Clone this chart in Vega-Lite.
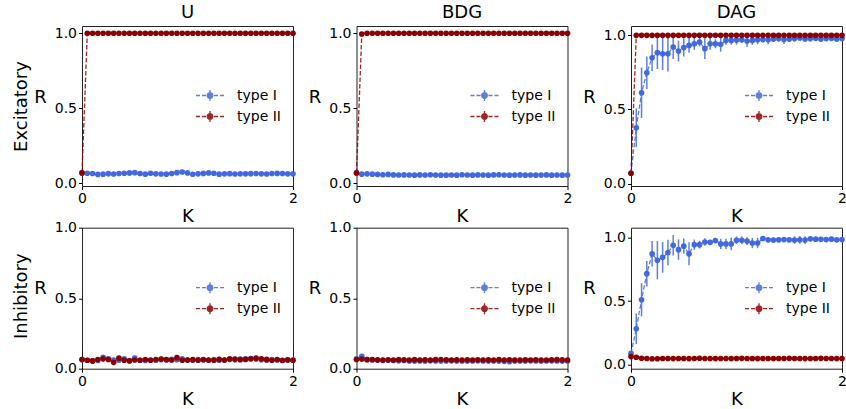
{
  "$schema": "https://vega.github.io/schema/vega-lite/v6.json",
  "background": "white",
  "padding": {"left": 11, "top": 3, "right": 0, "bottom": 0},
  "config": {
    "font": "DejaVu Sans",
    "view": {"stroke": "#222", "strokeWidth": 1},
    "axis": {"grid": false, "domain": false, "labelFlush": false, "labelOverlap": false, "labelFont": "DejaVu Sans", "titleFont": "DejaVu Sans", "labelFontSize": 14, "titleFontSize": 18, "titleFontWeight": "normal", "labelColor": "#000", "titleColor": "#000", "tickColor": "#000", "tickSize": 3.5, "labelPadding": 2},
    "axisX": {"titlePadding": 2},
    "title": {"font": "DejaVu Sans", "fontSize": 18, "fontWeight": "normal", "color": "#000", "offset": 4},
    "legend": {"labelFont": "DejaVu Sans", "labelFontSize": 14, "labelColor": "#000", "padding": 0, "rowPadding": 1, "labelOffset": 16}
  },
  "datasets": {
    "U_exc": [
      {"K":0,"type":"type I","R":0.07,"err":0.01},{"K":0.05,"type":"type I","R":0.068,"err":0.014},{"K":0.1,"type":"type I","R":0.066,"err":0.012},{"K":0.15,"type":"type I","R":0.06,"err":0.016},{"K":0.2,"type":"type I","R":0.062,"err":0.012},{"K":0.25,"type":"type I","R":0.065,"err":0.014},{"K":0.3,"type":"type I","R":0.063,"err":0.012},{"K":0.35,"type":"type I","R":0.066,"err":0.015},{"K":0.4,"type":"type I","R":0.068,"err":0.016},{"K":0.45,"type":"type I","R":0.07,"err":0.018},{"K":0.5,"type":"type I","R":0.072,"err":0.014},{"K":0.55,"type":"type I","R":0.066,"err":0.012},{"K":0.6,"type":"type I","R":0.062,"err":0.01},{"K":0.65,"type":"type I","R":0.068,"err":0.012},{"K":0.7,"type":"type I","R":0.064,"err":0.012},{"K":0.75,"type":"type I","R":0.063,"err":0.01},{"K":0.8,"type":"type I","R":0.062,"err":0.01},{"K":0.85,"type":"type I","R":0.066,"err":0.012},{"K":0.9,"type":"type I","R":0.072,"err":0.014},{"K":0.95,"type":"type I","R":0.076,"err":0.012},{"K":1,"type":"type I","R":0.07,"err":0.012},{"K":1.05,"type":"type I","R":0.061,"err":0.01},{"K":1.1,"type":"type I","R":0.064,"err":0.01},{"K":1.15,"type":"type I","R":0.067,"err":0.012},{"K":1.2,"type":"type I","R":0.07,"err":0.014},{"K":1.25,"type":"type I","R":0.068,"err":0.012},{"K":1.3,"type":"type I","R":0.062,"err":0.01},{"K":1.35,"type":"type I","R":0.064,"err":0.01},{"K":1.4,"type":"type I","R":0.065,"err":0.01},{"K":1.45,"type":"type I","R":0.063,"err":0.01},{"K":1.5,"type":"type I","R":0.064,"err":0.01},{"K":1.55,"type":"type I","R":0.064,"err":0.01},{"K":1.6,"type":"type I","R":0.065,"err":0.01},{"K":1.65,"type":"type I","R":0.066,"err":0.01},{"K":1.7,"type":"type I","R":0.064,"err":0.01},{"K":1.75,"type":"type I","R":0.063,"err":0.01},{"K":1.8,"type":"type I","R":0.066,"err":0.01},{"K":1.85,"type":"type I","R":0.067,"err":0.01},{"K":1.9,"type":"type I","R":0.066,"err":0.01},{"K":1.95,"type":"type I","R":0.064,"err":0.01},{"K":2,"type":"type I","R":0.064,"err":0.01},
      {"K":0,"type":"type II","R":0.07,"err":0.005},{"K":0.05,"type":"type II","R":1,"err":0},{"K":0.1,"type":"type II","R":1,"err":0},{"K":0.15,"type":"type II","R":1,"err":0},{"K":0.2,"type":"type II","R":1,"err":0},{"K":0.25,"type":"type II","R":1,"err":0},{"K":0.3,"type":"type II","R":1,"err":0},{"K":0.35,"type":"type II","R":1,"err":0},{"K":0.4,"type":"type II","R":1,"err":0},{"K":0.45,"type":"type II","R":1,"err":0},{"K":0.5,"type":"type II","R":1,"err":0},{"K":0.55,"type":"type II","R":1,"err":0},{"K":0.6,"type":"type II","R":1,"err":0},{"K":0.65,"type":"type II","R":1,"err":0},{"K":0.7,"type":"type II","R":1,"err":0},{"K":0.75,"type":"type II","R":1,"err":0},{"K":0.8,"type":"type II","R":1,"err":0},{"K":0.85,"type":"type II","R":1,"err":0},{"K":0.9,"type":"type II","R":1,"err":0},{"K":0.95,"type":"type II","R":1,"err":0},{"K":1,"type":"type II","R":1,"err":0},{"K":1.05,"type":"type II","R":1,"err":0},{"K":1.1,"type":"type II","R":1,"err":0},{"K":1.15,"type":"type II","R":1,"err":0},{"K":1.2,"type":"type II","R":1,"err":0},{"K":1.25,"type":"type II","R":1,"err":0},{"K":1.3,"type":"type II","R":1,"err":0},{"K":1.35,"type":"type II","R":1,"err":0},{"K":1.4,"type":"type II","R":1,"err":0},{"K":1.45,"type":"type II","R":1,"err":0},{"K":1.5,"type":"type II","R":1,"err":0},{"K":1.55,"type":"type II","R":1,"err":0},{"K":1.6,"type":"type II","R":1,"err":0},{"K":1.65,"type":"type II","R":1,"err":0},{"K":1.7,"type":"type II","R":1,"err":0},{"K":1.75,"type":"type II","R":1,"err":0},{"K":1.8,"type":"type II","R":1,"err":0},{"K":1.85,"type":"type II","R":1,"err":0},{"K":1.9,"type":"type II","R":1,"err":0},{"K":1.95,"type":"type II","R":1,"err":0},{"K":2,"type":"type II","R":1,"err":0}
    ],
    "BDG_exc": [
      {"K":0,"type":"type I","R":0.07,"err":0.012},{"K":0.05,"type":"type I","R":0.062,"err":0.015},{"K":0.1,"type":"type I","R":0.064,"err":0.014},{"K":0.15,"type":"type I","R":0.062,"err":0.012},{"K":0.2,"type":"type I","R":0.06,"err":0.012},{"K":0.25,"type":"type I","R":0.058,"err":0.012},{"K":0.3,"type":"type I","R":0.06,"err":0.014},{"K":0.35,"type":"type I","R":0.057,"err":0.01},{"K":0.4,"type":"type I","R":0.056,"err":0.01},{"K":0.45,"type":"type I","R":0.057,"err":0.01},{"K":0.5,"type":"type I","R":0.056,"err":0.01},{"K":0.55,"type":"type I","R":0.055,"err":0.01},{"K":0.6,"type":"type I","R":0.057,"err":0.01},{"K":0.65,"type":"type I","R":0.056,"err":0.01},{"K":0.7,"type":"type I","R":0.058,"err":0.01},{"K":0.75,"type":"type I","R":0.056,"err":0.01},{"K":0.8,"type":"type I","R":0.055,"err":0.01},{"K":0.85,"type":"type I","R":0.055,"err":0.01},{"K":0.9,"type":"type I","R":0.056,"err":0.01},{"K":0.95,"type":"type I","R":0.055,"err":0.01},{"K":1,"type":"type I","R":0.058,"err":0.01},{"K":1.05,"type":"type I","R":0.056,"err":0.01},{"K":1.1,"type":"type I","R":0.055,"err":0.01},{"K":1.15,"type":"type I","R":0.057,"err":0.01},{"K":1.2,"type":"type I","R":0.056,"err":0.01},{"K":1.25,"type":"type I","R":0.055,"err":0.01},{"K":1.3,"type":"type I","R":0.057,"err":0.01},{"K":1.35,"type":"type I","R":0.058,"err":0.01},{"K":1.4,"type":"type I","R":0.056,"err":0.01},{"K":1.45,"type":"type I","R":0.055,"err":0.01},{"K":1.5,"type":"type I","R":0.056,"err":0.01},{"K":1.55,"type":"type I","R":0.057,"err":0.01},{"K":1.6,"type":"type I","R":0.055,"err":0.01},{"K":1.65,"type":"type I","R":0.056,"err":0.01},{"K":1.7,"type":"type I","R":0.055,"err":0.01},{"K":1.75,"type":"type I","R":0.056,"err":0.01},{"K":1.8,"type":"type I","R":0.057,"err":0.01},{"K":1.85,"type":"type I","R":0.055,"err":0.01},{"K":1.9,"type":"type I","R":0.056,"err":0.01},{"K":1.95,"type":"type I","R":0.055,"err":0.01},{"K":2,"type":"type I","R":0.056,"err":0.01},
      {"K":0,"type":"type II","R":0.07,"err":0.005},{"K":0.05,"type":"type II","R":0.995,"err":0},{"K":0.1,"type":"type II","R":1,"err":0},{"K":0.15,"type":"type II","R":1,"err":0},{"K":0.2,"type":"type II","R":1,"err":0},{"K":0.25,"type":"type II","R":1,"err":0},{"K":0.3,"type":"type II","R":1,"err":0},{"K":0.35,"type":"type II","R":1,"err":0},{"K":0.4,"type":"type II","R":1,"err":0},{"K":0.45,"type":"type II","R":1,"err":0},{"K":0.5,"type":"type II","R":1,"err":0},{"K":0.55,"type":"type II","R":1,"err":0},{"K":0.6,"type":"type II","R":1,"err":0},{"K":0.65,"type":"type II","R":1,"err":0},{"K":0.7,"type":"type II","R":1,"err":0},{"K":0.75,"type":"type II","R":1,"err":0},{"K":0.8,"type":"type II","R":1,"err":0},{"K":0.85,"type":"type II","R":1,"err":0},{"K":0.9,"type":"type II","R":1,"err":0},{"K":0.95,"type":"type II","R":1,"err":0},{"K":1,"type":"type II","R":1,"err":0},{"K":1.05,"type":"type II","R":1,"err":0},{"K":1.1,"type":"type II","R":1,"err":0},{"K":1.15,"type":"type II","R":1,"err":0},{"K":1.2,"type":"type II","R":1,"err":0},{"K":1.25,"type":"type II","R":1,"err":0},{"K":1.3,"type":"type II","R":1,"err":0},{"K":1.35,"type":"type II","R":1,"err":0},{"K":1.4,"type":"type II","R":1,"err":0},{"K":1.45,"type":"type II","R":1,"err":0},{"K":1.5,"type":"type II","R":1,"err":0},{"K":1.55,"type":"type II","R":1,"err":0},{"K":1.6,"type":"type II","R":1,"err":0},{"K":1.65,"type":"type II","R":1,"err":0},{"K":1.7,"type":"type II","R":1,"err":0},{"K":1.75,"type":"type II","R":1,"err":0},{"K":1.8,"type":"type II","R":1,"err":0},{"K":1.85,"type":"type II","R":1,"err":0},{"K":1.9,"type":"type II","R":1,"err":0},{"K":1.95,"type":"type II","R":1,"err":0},{"K":2,"type":"type II","R":1,"err":0}
    ],
    "DAG_exc": [
      {"K":0,"type":"type I","R":0.07,"err":0.005},{"K":0.05,"type":"type I","R":0.377,"err":0.13},{"K":0.1,"type":"type I","R":0.613,"err":0.17},{"K":0.15,"type":"type I","R":0.748,"err":0.11},{"K":0.2,"type":"type I","R":0.849,"err":0.09},{"K":0.25,"type":"type I","R":0.883,"err":0.11},{"K":0.3,"type":"type I","R":0.876,"err":0.11},{"K":0.35,"type":"type I","R":0.876,"err":0.12},{"K":0.4,"type":"type I","R":0.921,"err":0.08},{"K":0.45,"type":"type I","R":0.894,"err":0.07},{"K":0.5,"type":"type I","R":0.918,"err":0.06},{"K":0.55,"type":"type I","R":0.932,"err":0.05},{"K":0.6,"type":"type I","R":0.943,"err":0.04},{"K":0.65,"type":"type I","R":0.955,"err":0.03},{"K":0.7,"type":"type I","R":0.91,"err":0.07},{"K":0.75,"type":"type I","R":0.943,"err":0.04},{"K":0.8,"type":"type I","R":0.943,"err":0.03},{"K":0.85,"type":"type I","R":0.94,"err":0.05},{"K":0.9,"type":"type I","R":0.966,"err":0.03},{"K":0.95,"type":"type I","R":0.966,"err":0.03},{"K":1,"type":"type I","R":0.968,"err":0.03},{"K":1.05,"type":"type I","R":0.97,"err":0.02},{"K":1.1,"type":"type I","R":0.962,"err":0.04},{"K":1.15,"type":"type I","R":0.966,"err":0.03},{"K":1.2,"type":"type I","R":0.97,"err":0.03},{"K":1.25,"type":"type I","R":0.972,"err":0.02},{"K":1.3,"type":"type I","R":0.97,"err":0.03},{"K":1.35,"type":"type I","R":0.975,"err":0.02},{"K":1.4,"type":"type I","R":0.978,"err":0.02},{"K":1.45,"type":"type I","R":0.972,"err":0.03},{"K":1.5,"type":"type I","R":0.975,"err":0.02},{"K":1.55,"type":"type I","R":0.978,"err":0.02},{"K":1.6,"type":"type I","R":0.982,"err":0.015},{"K":1.65,"type":"type I","R":0.976,"err":0.02},{"K":1.7,"type":"type I","R":0.978,"err":0.02},{"K":1.75,"type":"type I","R":0.98,"err":0.015},{"K":1.8,"type":"type I","R":0.975,"err":0.02},{"K":1.85,"type":"type I","R":0.978,"err":0.015},{"K":1.9,"type":"type I","R":0.98,"err":0.015},{"K":1.95,"type":"type I","R":0.976,"err":0.02},{"K":2,"type":"type I","R":0.978,"err":0.015},
      {"K":0,"type":"type II","R":0.07,"err":0.005},{"K":0.05,"type":"type II","R":1,"err":0},{"K":0.1,"type":"type II","R":1,"err":0},{"K":0.15,"type":"type II","R":1,"err":0},{"K":0.2,"type":"type II","R":1,"err":0},{"K":0.25,"type":"type II","R":1,"err":0},{"K":0.3,"type":"type II","R":1,"err":0},{"K":0.35,"type":"type II","R":1,"err":0},{"K":0.4,"type":"type II","R":1,"err":0},{"K":0.45,"type":"type II","R":1,"err":0},{"K":0.5,"type":"type II","R":1,"err":0},{"K":0.55,"type":"type II","R":1,"err":0},{"K":0.6,"type":"type II","R":1,"err":0},{"K":0.65,"type":"type II","R":1,"err":0},{"K":0.7,"type":"type II","R":1,"err":0},{"K":0.75,"type":"type II","R":1,"err":0},{"K":0.8,"type":"type II","R":1,"err":0},{"K":0.85,"type":"type II","R":1,"err":0},{"K":0.9,"type":"type II","R":1,"err":0},{"K":0.95,"type":"type II","R":1,"err":0},{"K":1,"type":"type II","R":1,"err":0},{"K":1.05,"type":"type II","R":1,"err":0},{"K":1.1,"type":"type II","R":1,"err":0},{"K":1.15,"type":"type II","R":1,"err":0},{"K":1.2,"type":"type II","R":1,"err":0},{"K":1.25,"type":"type II","R":1,"err":0},{"K":1.3,"type":"type II","R":1,"err":0},{"K":1.35,"type":"type II","R":1,"err":0},{"K":1.4,"type":"type II","R":1,"err":0},{"K":1.45,"type":"type II","R":1,"err":0},{"K":1.5,"type":"type II","R":1,"err":0},{"K":1.55,"type":"type II","R":1,"err":0},{"K":1.6,"type":"type II","R":1,"err":0},{"K":1.65,"type":"type II","R":1,"err":0},{"K":1.7,"type":"type II","R":1,"err":0},{"K":1.75,"type":"type II","R":1,"err":0},{"K":1.8,"type":"type II","R":1,"err":0},{"K":1.85,"type":"type II","R":1,"err":0},{"K":1.9,"type":"type II","R":1,"err":0},{"K":1.95,"type":"type II","R":1,"err":0},{"K":2,"type":"type II","R":1,"err":0}
    ],
    "U_inh": [
      {"K":0,"type":"type I","R":0.065,"err":0.015},{"K":0.05,"type":"type I","R":0.06,"err":0.016},{"K":0.1,"type":"type I","R":0.055,"err":0.018},{"K":0.15,"type":"type I","R":0.058,"err":0.016},{"K":0.2,"type":"type I","R":0.08,"err":0.016},{"K":0.25,"type":"type I","R":0.07,"err":0.018},{"K":0.3,"type":"type I","R":0.062,"err":0.016},{"K":0.35,"type":"type I","R":0.06,"err":0.015},{"K":0.4,"type":"type I","R":0.07,"err":0.016},{"K":0.45,"type":"type I","R":0.058,"err":0.015},{"K":0.5,"type":"type I","R":0.075,"err":0.016},{"K":0.55,"type":"type I","R":0.06,"err":0.015},{"K":0.6,"type":"type I","R":0.058,"err":0.015},{"K":0.65,"type":"type I","R":0.062,"err":0.015},{"K":0.7,"type":"type I","R":0.06,"err":0.015},{"K":0.75,"type":"type I","R":0.064,"err":0.015},{"K":0.8,"type":"type I","R":0.063,"err":0.015},{"K":0.85,"type":"type I","R":0.066,"err":0.015},{"K":0.9,"type":"type I","R":0.064,"err":0.015},{"K":0.95,"type":"type I","R":0.07,"err":0.015},{"K":1,"type":"type I","R":0.062,"err":0.015},{"K":1.05,"type":"type I","R":0.06,"err":0.015},{"K":1.1,"type":"type I","R":0.065,"err":0.015},{"K":1.15,"type":"type I","R":0.062,"err":0.015},{"K":1.2,"type":"type I","R":0.06,"err":0.015},{"K":1.25,"type":"type I","R":0.064,"err":0.015},{"K":1.3,"type":"type I","R":0.06,"err":0.015},{"K":1.35,"type":"type I","R":0.062,"err":0.015},{"K":1.4,"type":"type I","R":0.065,"err":0.015},{"K":1.45,"type":"type I","R":0.063,"err":0.015},{"K":1.5,"type":"type I","R":0.068,"err":0.015},{"K":1.55,"type":"type I","R":0.07,"err":0.015},{"K":1.6,"type":"type I","R":0.072,"err":0.015},{"K":1.65,"type":"type I","R":0.068,"err":0.015},{"K":1.7,"type":"type I","R":0.064,"err":0.015},{"K":1.75,"type":"type I","R":0.06,"err":0.015},{"K":1.8,"type":"type I","R":0.065,"err":0.015},{"K":1.85,"type":"type I","R":0.062,"err":0.015},{"K":1.9,"type":"type I","R":0.06,"err":0.015},{"K":1.95,"type":"type I","R":0.064,"err":0.015},{"K":2,"type":"type I","R":0.062,"err":0.015},
      {"K":0,"type":"type II","R":0.065,"err":0.015},{"K":0.05,"type":"type II","R":0.06,"err":0.016},{"K":0.1,"type":"type II","R":0.055,"err":0.02},{"K":0.15,"type":"type II","R":0.065,"err":0.018},{"K":0.2,"type":"type II","R":0.07,"err":0.02},{"K":0.25,"type":"type II","R":0.065,"err":0.018},{"K":0.3,"type":"type II","R":0.045,"err":0.02},{"K":0.35,"type":"type II","R":0.075,"err":0.016},{"K":0.4,"type":"type II","R":0.06,"err":0.018},{"K":0.45,"type":"type II","R":0.055,"err":0.016},{"K":0.5,"type":"type II","R":0.062,"err":0.016},{"K":0.55,"type":"type II","R":0.06,"err":0.016},{"K":0.6,"type":"type II","R":0.065,"err":0.016},{"K":0.65,"type":"type II","R":0.06,"err":0.016},{"K":0.7,"type":"type II","R":0.065,"err":0.018},{"K":0.75,"type":"type II","R":0.068,"err":0.016},{"K":0.8,"type":"type II","R":0.064,"err":0.016},{"K":0.85,"type":"type II","R":0.062,"err":0.018},{"K":0.9,"type":"type II","R":0.078,"err":0.016},{"K":0.95,"type":"type II","R":0.06,"err":0.018},{"K":1,"type":"type II","R":0.062,"err":0.016},{"K":1.05,"type":"type II","R":0.064,"err":0.016},{"K":1.1,"type":"type II","R":0.06,"err":0.016},{"K":1.15,"type":"type II","R":0.065,"err":0.016},{"K":1.2,"type":"type II","R":0.062,"err":0.016},{"K":1.25,"type":"type II","R":0.06,"err":0.016},{"K":1.3,"type":"type II","R":0.066,"err":0.018},{"K":1.35,"type":"type II","R":0.062,"err":0.016},{"K":1.4,"type":"type II","R":0.07,"err":0.016},{"K":1.45,"type":"type II","R":0.068,"err":0.016},{"K":1.5,"type":"type II","R":0.064,"err":0.016},{"K":1.55,"type":"type II","R":0.066,"err":0.016},{"K":1.6,"type":"type II","R":0.07,"err":0.016},{"K":1.65,"type":"type II","R":0.075,"err":0.016},{"K":1.7,"type":"type II","R":0.07,"err":0.016},{"K":1.75,"type":"type II","R":0.066,"err":0.016},{"K":1.8,"type":"type II","R":0.06,"err":0.016},{"K":1.85,"type":"type II","R":0.065,"err":0.016},{"K":1.9,"type":"type II","R":0.058,"err":0.016},{"K":1.95,"type":"type II","R":0.062,"err":0.016},{"K":2,"type":"type II","R":0.06,"err":0.016}
    ],
    "BDG_inh": [
      {"K":0,"type":"type I","R":0.07,"err":0.012},{"K":0.05,"type":"type I","R":0.088,"err":0.015},{"K":0.1,"type":"type I","R":0.065,"err":0.014},{"K":0.15,"type":"type I","R":0.062,"err":0.012},{"K":0.2,"type":"type I","R":0.06,"err":0.012},{"K":0.25,"type":"type I","R":0.058,"err":0.012},{"K":0.3,"type":"type I","R":0.06,"err":0.012},{"K":0.35,"type":"type I","R":0.058,"err":0.012},{"K":0.4,"type":"type I","R":0.056,"err":0.012},{"K":0.45,"type":"type I","R":0.058,"err":0.012},{"K":0.5,"type":"type I","R":0.055,"err":0.012},{"K":0.55,"type":"type I","R":0.054,"err":0.012},{"K":0.6,"type":"type I","R":0.055,"err":0.012},{"K":0.65,"type":"type I","R":0.054,"err":0.012},{"K":0.7,"type":"type I","R":0.056,"err":0.012},{"K":0.75,"type":"type I","R":0.055,"err":0.012},{"K":0.8,"type":"type I","R":0.054,"err":0.012},{"K":0.85,"type":"type I","R":0.055,"err":0.012},{"K":0.9,"type":"type I","R":0.056,"err":0.012},{"K":0.95,"type":"type I","R":0.054,"err":0.012},{"K":1,"type":"type I","R":0.055,"err":0.012},{"K":1.05,"type":"type I","R":0.054,"err":0.012},{"K":1.1,"type":"type I","R":0.055,"err":0.012},{"K":1.15,"type":"type I","R":0.056,"err":0.012},{"K":1.2,"type":"type I","R":0.055,"err":0.012},{"K":1.25,"type":"type I","R":0.054,"err":0.012},{"K":1.3,"type":"type I","R":0.055,"err":0.012},{"K":1.35,"type":"type I","R":0.054,"err":0.012},{"K":1.4,"type":"type I","R":0.052,"err":0.012},{"K":1.45,"type":"type I","R":0.05,"err":0.012},{"K":1.5,"type":"type I","R":0.054,"err":0.012},{"K":1.55,"type":"type I","R":0.055,"err":0.012},{"K":1.6,"type":"type I","R":0.054,"err":0.012},{"K":1.65,"type":"type I","R":0.056,"err":0.012},{"K":1.7,"type":"type I","R":0.055,"err":0.012},{"K":1.75,"type":"type I","R":0.054,"err":0.012},{"K":1.8,"type":"type I","R":0.055,"err":0.012},{"K":1.85,"type":"type I","R":0.056,"err":0.012},{"K":1.9,"type":"type I","R":0.055,"err":0.012},{"K":1.95,"type":"type I","R":0.054,"err":0.012},{"K":2,"type":"type I","R":0.055,"err":0.012},
      {"K":0,"type":"type II","R":0.065,"err":0.015},{"K":0.05,"type":"type II","R":0.068,"err":0.015},{"K":0.1,"type":"type II","R":0.064,"err":0.015},{"K":0.15,"type":"type II","R":0.065,"err":0.015},{"K":0.2,"type":"type II","R":0.063,"err":0.015},{"K":0.25,"type":"type II","R":0.062,"err":0.015},{"K":0.3,"type":"type II","R":0.063,"err":0.015},{"K":0.35,"type":"type II","R":0.062,"err":0.015},{"K":0.4,"type":"type II","R":0.064,"err":0.015},{"K":0.45,"type":"type II","R":0.063,"err":0.015},{"K":0.5,"type":"type II","R":0.062,"err":0.015},{"K":0.55,"type":"type II","R":0.064,"err":0.015},{"K":0.6,"type":"type II","R":0.062,"err":0.015},{"K":0.65,"type":"type II","R":0.063,"err":0.015},{"K":0.7,"type":"type II","R":0.062,"err":0.015},{"K":0.75,"type":"type II","R":0.064,"err":0.015},{"K":0.8,"type":"type II","R":0.065,"err":0.015},{"K":0.85,"type":"type II","R":0.063,"err":0.015},{"K":0.9,"type":"type II","R":0.062,"err":0.015},{"K":0.95,"type":"type II","R":0.063,"err":0.015},{"K":1,"type":"type II","R":0.062,"err":0.015},{"K":1.05,"type":"type II","R":0.063,"err":0.015},{"K":1.1,"type":"type II","R":0.062,"err":0.015},{"K":1.15,"type":"type II","R":0.063,"err":0.015},{"K":1.2,"type":"type II","R":0.062,"err":0.015},{"K":1.25,"type":"type II","R":0.063,"err":0.015},{"K":1.3,"type":"type II","R":0.062,"err":0.015},{"K":1.35,"type":"type II","R":0.064,"err":0.015},{"K":1.4,"type":"type II","R":0.062,"err":0.015},{"K":1.45,"type":"type II","R":0.063,"err":0.015},{"K":1.5,"type":"type II","R":0.062,"err":0.015},{"K":1.55,"type":"type II","R":0.062,"err":0.015},{"K":1.6,"type":"type II","R":0.063,"err":0.015},{"K":1.65,"type":"type II","R":0.062,"err":0.015},{"K":1.7,"type":"type II","R":0.063,"err":0.015},{"K":1.75,"type":"type II","R":0.062,"err":0.015},{"K":1.8,"type":"type II","R":0.062,"err":0.015},{"K":1.85,"type":"type II","R":0.063,"err":0.015},{"K":1.9,"type":"type II","R":0.064,"err":0.015},{"K":1.95,"type":"type II","R":0.063,"err":0.015},{"K":2,"type":"type II","R":0.062,"err":0.015}
    ],
    "DAG_inh": [
      {"K":0,"type":"type I","R":0.09,"err":0.01},{"K":0.05,"type":"type I","R":0.283,"err":0.12},{"K":0.1,"type":"type I","R":0.51,"err":0.13},{"K":0.15,"type":"type I","R":0.715,"err":0.1},{"K":0.2,"type":"type I","R":0.87,"err":0.1},{"K":0.25,"type":"type I","R":0.82,"err":0.15},{"K":0.3,"type":"type I","R":0.843,"err":0.12},{"K":0.35,"type":"type I","R":0.88,"err":0.1},{"K":0.4,"type":"type I","R":0.937,"err":0.08},{"K":0.45,"type":"type I","R":0.903,"err":0.08},{"K":0.5,"type":"type I","R":0.93,"err":0.06},{"K":0.55,"type":"type I","R":0.87,"err":0.09},{"K":0.6,"type":"type I","R":0.942,"err":0.04},{"K":0.65,"type":"type I","R":0.942,"err":0.03},{"K":0.7,"type":"type I","R":0.963,"err":0.03},{"K":0.75,"type":"type I","R":0.96,"err":0.02},{"K":0.8,"type":"type I","R":0.974,"err":0.02},{"K":0.85,"type":"type I","R":0.948,"err":0.04},{"K":0.9,"type":"type I","R":0.948,"err":0.04},{"K":0.95,"type":"type I","R":0.948,"err":0.05},{"K":1,"type":"type I","R":0.976,"err":0.03},{"K":1.05,"type":"type I","R":0.976,"err":0.03},{"K":1.1,"type":"type I","R":0.97,"err":0.03},{"K":1.15,"type":"type I","R":0.955,"err":0.04},{"K":1.2,"type":"type I","R":0.955,"err":0.04},{"K":1.25,"type":"type I","R":0.99,"err":0.02},{"K":1.3,"type":"type I","R":0.98,"err":0.02},{"K":1.35,"type":"type I","R":0.978,"err":0.02},{"K":1.4,"type":"type I","R":0.98,"err":0.02},{"K":1.45,"type":"type I","R":0.982,"err":0.02},{"K":1.5,"type":"type I","R":0.98,"err":0.02},{"K":1.55,"type":"type I","R":0.978,"err":0.03},{"K":1.6,"type":"type I","R":0.98,"err":0.03},{"K":1.65,"type":"type I","R":0.978,"err":0.03},{"K":1.7,"type":"type I","R":0.988,"err":0.015},{"K":1.75,"type":"type I","R":0.985,"err":0.015},{"K":1.8,"type":"type I","R":0.984,"err":0.015},{"K":1.85,"type":"type I","R":0.982,"err":0.015},{"K":1.9,"type":"type I","R":0.985,"err":0.015},{"K":1.95,"type":"type I","R":0.98,"err":0.015},{"K":2,"type":"type I","R":0.982,"err":0.015},
      {"K":0,"type":"type II","R":0.065,"err":0.01},{"K":0.05,"type":"type II","R":0.06,"err":0.01},{"K":0.1,"type":"type II","R":0.052,"err":0.01},{"K":0.15,"type":"type II","R":0.05,"err":0.01},{"K":0.2,"type":"type II","R":0.048,"err":0.01},{"K":0.25,"type":"type II","R":0.048,"err":0.01},{"K":0.3,"type":"type II","R":0.05,"err":0.01},{"K":0.35,"type":"type II","R":0.05,"err":0.01},{"K":0.4,"type":"type II","R":0.049,"err":0.01},{"K":0.45,"type":"type II","R":0.05,"err":0.01},{"K":0.5,"type":"type II","R":0.05,"err":0.01},{"K":0.55,"type":"type II","R":0.049,"err":0.01},{"K":0.6,"type":"type II","R":0.05,"err":0.01},{"K":0.65,"type":"type II","R":0.052,"err":0.01},{"K":0.7,"type":"type II","R":0.05,"err":0.01},{"K":0.75,"type":"type II","R":0.05,"err":0.01},{"K":0.8,"type":"type II","R":0.049,"err":0.01},{"K":0.85,"type":"type II","R":0.05,"err":0.01},{"K":0.9,"type":"type II","R":0.05,"err":0.01},{"K":0.95,"type":"type II","R":0.049,"err":0.01},{"K":1,"type":"type II","R":0.05,"err":0.01},{"K":1.05,"type":"type II","R":0.051,"err":0.01},{"K":1.1,"type":"type II","R":0.05,"err":0.01},{"K":1.15,"type":"type II","R":0.05,"err":0.01},{"K":1.2,"type":"type II","R":0.049,"err":0.01},{"K":1.25,"type":"type II","R":0.05,"err":0.01},{"K":1.3,"type":"type II","R":0.05,"err":0.01},{"K":1.35,"type":"type II","R":0.049,"err":0.01},{"K":1.4,"type":"type II","R":0.05,"err":0.01},{"K":1.45,"type":"type II","R":0.05,"err":0.01},{"K":1.5,"type":"type II","R":0.051,"err":0.01},{"K":1.55,"type":"type II","R":0.05,"err":0.01},{"K":1.6,"type":"type II","R":0.05,"err":0.01},{"K":1.65,"type":"type II","R":0.049,"err":0.01},{"K":1.7,"type":"type II","R":0.05,"err":0.01},{"K":1.75,"type":"type II","R":0.05,"err":0.01},{"K":1.8,"type":"type II","R":0.051,"err":0.01},{"K":1.85,"type":"type II","R":0.05,"err":0.01},{"K":1.9,"type":"type II","R":0.05,"err":0.01},{"K":1.95,"type":"type II","R":0.049,"err":0.01},{"K":2,"type":"type II","R":0.05,"err":0.01}
    ]
  },
  "columns": 3,
  "spacing": {"row": 41.7, "column": 63.5},
  "bounds": "flush",
  "resolve": {"legend": {"color": "independent"}},
  "concat": [
    {
      "width": 211, "height": 160, "title": "U", "data": {"name": "U_exc"},
      "encoding": {
        "x": {"field": "K", "type": "quantitative", "scale": {"domain": [0, 2], "nice": false, "zero": false}, "axis": {"title": "K", "values": [0, 1, 2], "format": "d"}},
        "color": {"field": "type", "type": "nominal", "scale": {"domain": ["type I", "type II"], "range": ["#4169E1", "#8B0000"]},
          "legend": {"orient": "none", "legendX": 117, "legendY": 58.5, "title": null, "symbolType": "M-1.4,0L-1,0M-0.8,0L-0.4,0M-0.2,0L0.2,0M0.4,0L0.8,0M1,0L1.4,0M0,-0.55L0,0.55M-0.28,0A0.28,0.28 0 1,0 0.28,0A0.28,0.28 0 1,0 -0.28,0Z", "symbolSize": 400, "symbolStrokeWidth": 1.3,
            "encode": {"symbols": {"update": {"fill": {"scale": "color", "field": "value"}, "stroke": {"scale": "color", "field": "value"}, "strokeDash": {"value": [1, 0]}, "opacity": {"value": 1}}}}}}
      },
      "layer": [
        {"mark": {"type": "errorbar", "ticks": false, "thickness": 1.5, "rule": {"opacity": 0.85}},
         "encoding": {"y": {"field": "R", "type": "quantitative", "scale": {"domain": [-0.017, 1.0485], "nice": false, "zero": false}, "axis": null}, "yError": {"field": "err"}}},
        {"mark": {"type": "line", "strokeDash": [4.5, 2], "strokeWidth": 1.3, "opacity": 0.85},
         "encoding": {"y": {"field": "R", "type": "quantitative", "scale": {"domain": [-0.017, 1.0485], "nice": false, "zero": false},
           "axis": {"orient": "left", "title": "Excitatory", "labels": false, "ticks": false, "domain": false, "titleAngle": 270, "titleX": -61, "titleY": 80, "titleAlign": "center", "titleBaseline": "middle"}}}},
        {"mark": {"type": "point", "filled": true, "size": 32, "opacity": 1},
         "encoding": {"y": {"field": "R", "type": "quantitative", "scale": {"domain": [-0.017, 1.0485], "nice": false, "zero": false},
           "axis": {"orient": "left", "title": "R", "values": [0, 0.5, 1], "format": ".1f", "titleAngle": 0, "titleX": -42, "titleY": 71, "titleAlign": "center", "titleBaseline": "middle"}}}}
      ],
      "resolve": {"axis": {"y": "independent"}}
    },
    {
      "width": 211, "height": 160, "title": "BDG", "data": {"name": "BDG_exc"},
      "encoding": {
        "x": {"field": "K", "type": "quantitative", "scale": {"domain": [0, 2], "nice": false, "zero": false}, "axis": {"title": "K", "values": [0, 1, 2], "format": "d"}},
        "color": {"field": "type", "type": "nominal", "scale": {"domain": ["type I", "type II"], "range": ["#4169E1", "#8B0000"]},
          "legend": {"orient": "none", "legendX": 117, "legendY": 58.5, "title": null, "symbolType": "M-1.4,0L-1,0M-0.8,0L-0.4,0M-0.2,0L0.2,0M0.4,0L0.8,0M1,0L1.4,0M0,-0.55L0,0.55M-0.28,0A0.28,0.28 0 1,0 0.28,0A0.28,0.28 0 1,0 -0.28,0Z", "symbolSize": 400, "symbolStrokeWidth": 1.3,
            "encode": {"symbols": {"update": {"fill": {"scale": "color", "field": "value"}, "stroke": {"scale": "color", "field": "value"}, "strokeDash": {"value": [1, 0]}, "opacity": {"value": 1}}}}}}
      },
      "layer": [
        {"mark": {"type": "errorbar", "ticks": false, "thickness": 1.5, "rule": {"opacity": 0.85}},
         "encoding": {"y": {"field": "R", "type": "quantitative", "scale": {"domain": [-0.017, 1.0485], "nice": false, "zero": false}, "axis": null}, "yError": {"field": "err"}}},
        {"mark": {"type": "line", "strokeDash": [4.5, 2], "strokeWidth": 1.3, "opacity": 0.85},
         "encoding": {"y": {"field": "R", "type": "quantitative", "scale": {"domain": [-0.017, 1.0485], "nice": false, "zero": false}, "axis": null}}},
        {"mark": {"type": "point", "filled": true, "size": 32, "opacity": 1},
         "encoding": {"y": {"field": "R", "type": "quantitative", "scale": {"domain": [-0.017, 1.0485], "nice": false, "zero": false},
           "axis": {"orient": "left", "title": "R", "values": [0, 0.5, 1], "format": ".1f", "titleAngle": 0, "titleX": -42, "titleY": 71, "titleAlign": "center", "titleBaseline": "middle"}}}}
      ],
      "resolve": {"axis": {"y": "independent"}}
    },
    {
      "width": 211, "height": 160, "title": "DAG", "data": {"name": "DAG_exc"},
      "encoding": {
        "x": {"field": "K", "type": "quantitative", "scale": {"domain": [0, 2], "nice": false, "zero": false}, "axis": {"title": "K", "values": [0, 1, 2], "format": "d"}},
        "color": {"field": "type", "type": "nominal", "scale": {"domain": ["type I", "type II"], "range": ["#4169E1", "#8B0000"]},
          "legend": {"orient": "none", "legendX": 117, "legendY": 58.5, "title": null, "symbolType": "M-1.4,0L-1,0M-0.8,0L-0.4,0M-0.2,0L0.2,0M0.4,0L0.8,0M1,0L1.4,0M0,-0.55L0,0.55M-0.28,0A0.28,0.28 0 1,0 0.28,0A0.28,0.28 0 1,0 -0.28,0Z", "symbolSize": 400, "symbolStrokeWidth": 1.3,
            "encode": {"symbols": {"update": {"fill": {"scale": "color", "field": "value"}, "stroke": {"scale": "color", "field": "value"}, "strokeDash": {"value": [1, 0]}, "opacity": {"value": 1}}}}}}
      },
      "layer": [
        {"mark": {"type": "errorbar", "ticks": false, "thickness": 1.5, "rule": {"opacity": 0.85}},
         "encoding": {"y": {"field": "R", "type": "quantitative", "scale": {"domain": [-0.016, 1.063], "nice": false, "zero": false}, "axis": null}, "yError": {"field": "err"}}},
        {"mark": {"type": "line", "strokeDash": [4.5, 2], "strokeWidth": 1.3, "opacity": 0.85},
         "encoding": {"y": {"field": "R", "type": "quantitative", "scale": {"domain": [-0.016, 1.063], "nice": false, "zero": false}, "axis": null}}},
        {"mark": {"type": "point", "filled": true, "size": 32, "opacity": 1},
         "encoding": {"y": {"field": "R", "type": "quantitative", "scale": {"domain": [-0.016, 1.063], "nice": false, "zero": false},
           "axis": {"orient": "left", "title": "R", "values": [0, 0.5, 1], "format": ".1f", "titleAngle": 0, "titleX": -42, "titleY": 71, "titleAlign": "center", "titleBaseline": "middle"}}}}
      ],
      "resolve": {"axis": {"y": "independent"}}
    },
    {
      "width": 211, "height": 141, "data": {"name": "U_inh"},
      "encoding": {
        "x": {"field": "K", "type": "quantitative", "scale": {"domain": [0, 2], "nice": false, "zero": false}, "axis": {"title": "K", "values": [0, 1, 2], "format": "d"}},
        "color": {"field": "type", "type": "nominal", "scale": {"domain": ["type I", "type II"], "range": ["#4169E1", "#8B0000"]},
          "legend": {"orient": "none", "legendX": 117, "legendY": 49, "title": null, "symbolType": "M-1.4,0L-1,0M-0.8,0L-0.4,0M-0.2,0L0.2,0M0.4,0L0.8,0M1,0L1.4,0M0,-0.55L0,0.55M-0.28,0A0.28,0.28 0 1,0 0.28,0A0.28,0.28 0 1,0 -0.28,0Z", "symbolSize": 400, "symbolStrokeWidth": 1.3,
            "encode": {"symbols": {"update": {"fill": {"scale": "color", "field": "value"}, "stroke": {"scale": "color", "field": "value"}, "strokeDash": {"value": [1, 0]}, "opacity": {"value": 1}}}}}}
      },
      "layer": [
        {"mark": {"type": "errorbar", "ticks": false, "thickness": 1.5, "rule": {"opacity": 0.85}},
         "encoding": {"y": {"field": "R", "type": "quantitative", "scale": {"domain": [0, 1], "nice": false, "zero": false}, "axis": null}, "yError": {"field": "err"}}},
        {"mark": {"type": "line", "strokeDash": [4.5, 2], "strokeWidth": 1.3, "opacity": 0.85},
         "encoding": {"y": {"field": "R", "type": "quantitative", "scale": {"domain": [0, 1], "nice": false, "zero": false},
           "axis": {"orient": "left", "title": "Inhibitory", "labels": false, "ticks": false, "domain": false, "titleAngle": 270, "titleX": -61, "titleY": 68, "titleAlign": "center", "titleBaseline": "middle"}}}},
        {"mark": {"type": "point", "filled": true, "size": 32, "opacity": 1},
         "encoding": {"y": {"field": "R", "type": "quantitative", "scale": {"domain": [0, 1], "nice": false, "zero": false},
           "axis": {"orient": "left", "title": "R", "values": [0, 0.5, 1], "format": ".1f", "titleAngle": 0, "titleX": -42, "titleY": 61, "titleAlign": "center", "titleBaseline": "middle"}}}}
      ],
      "resolve": {"axis": {"y": "independent"}}
    },
    {
      "width": 211, "height": 141, "data": {"name": "BDG_inh"},
      "encoding": {
        "x": {"field": "K", "type": "quantitative", "scale": {"domain": [0, 2], "nice": false, "zero": false}, "axis": {"title": "K", "values": [0, 1, 2], "format": "d"}},
        "color": {"field": "type", "type": "nominal", "scale": {"domain": ["type I", "type II"], "range": ["#4169E1", "#8B0000"]},
          "legend": {"orient": "none", "legendX": 117, "legendY": 49, "title": null, "symbolType": "M-1.4,0L-1,0M-0.8,0L-0.4,0M-0.2,0L0.2,0M0.4,0L0.8,0M1,0L1.4,0M0,-0.55L0,0.55M-0.28,0A0.28,0.28 0 1,0 0.28,0A0.28,0.28 0 1,0 -0.28,0Z", "symbolSize": 400, "symbolStrokeWidth": 1.3,
            "encode": {"symbols": {"update": {"fill": {"scale": "color", "field": "value"}, "stroke": {"scale": "color", "field": "value"}, "strokeDash": {"value": [1, 0]}, "opacity": {"value": 1}}}}}}
      },
      "layer": [
        {"mark": {"type": "errorbar", "ticks": false, "thickness": 1.5, "rule": {"opacity": 0.85}},
         "encoding": {"y": {"field": "R", "type": "quantitative", "scale": {"domain": [0, 1], "nice": false, "zero": false}, "axis": null}, "yError": {"field": "err"}}},
        {"mark": {"type": "line", "strokeDash": [4.5, 2], "strokeWidth": 1.3, "opacity": 0.85},
         "encoding": {"y": {"field": "R", "type": "quantitative", "scale": {"domain": [0, 1], "nice": false, "zero": false}, "axis": null}}},
        {"mark": {"type": "point", "filled": true, "size": 32, "opacity": 1},
         "encoding": {"y": {"field": "R", "type": "quantitative", "scale": {"domain": [0, 1], "nice": false, "zero": false},
           "axis": {"orient": "left", "title": "R", "values": [0, 0.5, 1], "format": ".1f", "titleAngle": 0, "titleX": -42, "titleY": 61, "titleAlign": "center", "titleBaseline": "middle"}}}}
      ],
      "resolve": {"axis": {"y": "independent"}}
    },
    {
      "width": 211, "height": 141, "data": {"name": "DAG_inh"},
      "encoding": {
        "x": {"field": "K", "type": "quantitative", "scale": {"domain": [0, 2], "nice": false, "zero": false}, "axis": {"title": "K", "values": [0, 1, 2], "format": "d"}},
        "color": {"field": "type", "type": "nominal", "scale": {"domain": ["type I", "type II"], "range": ["#4169E1", "#8B0000"]},
          "legend": {"orient": "none", "legendX": 117, "legendY": 49, "title": null, "symbolType": "M-1.4,0L-1,0M-0.8,0L-0.4,0M-0.2,0L0.2,0M0.4,0L0.8,0M1,0L1.4,0M0,-0.55L0,0.55M-0.28,0A0.28,0.28 0 1,0 0.28,0A0.28,0.28 0 1,0 -0.28,0Z", "symbolSize": 400, "symbolStrokeWidth": 1.3,
            "encode": {"symbols": {"update": {"fill": {"scale": "color", "field": "value"}, "stroke": {"scale": "color", "field": "value"}, "strokeDash": {"value": [1, 0]}, "opacity": {"value": 1}}}}}}
      },
      "layer": [
        {"mark": {"type": "errorbar", "ticks": false, "thickness": 1.5, "rule": {"opacity": 0.85}},
         "encoding": {"y": {"field": "R", "type": "quantitative", "scale": {"domain": [-0.03, 1.075], "nice": false, "zero": false}, "axis": null}, "yError": {"field": "err"}}},
        {"mark": {"type": "line", "strokeDash": [4.5, 2], "strokeWidth": 1.3, "opacity": 0.85},
         "encoding": {"y": {"field": "R", "type": "quantitative", "scale": {"domain": [-0.03, 1.075], "nice": false, "zero": false}, "axis": null}}},
        {"mark": {"type": "point", "filled": true, "size": 32, "opacity": 1},
         "encoding": {"y": {"field": "R", "type": "quantitative", "scale": {"domain": [-0.03, 1.075], "nice": false, "zero": false},
           "axis": {"orient": "left", "title": "R", "values": [0, 0.5, 1], "format": ".1f", "titleAngle": 0, "titleX": -42, "titleY": 61, "titleAlign": "center", "titleBaseline": "middle"}}}}
      ],
      "resolve": {"axis": {"y": "independent"}}
    }
  ]
}
